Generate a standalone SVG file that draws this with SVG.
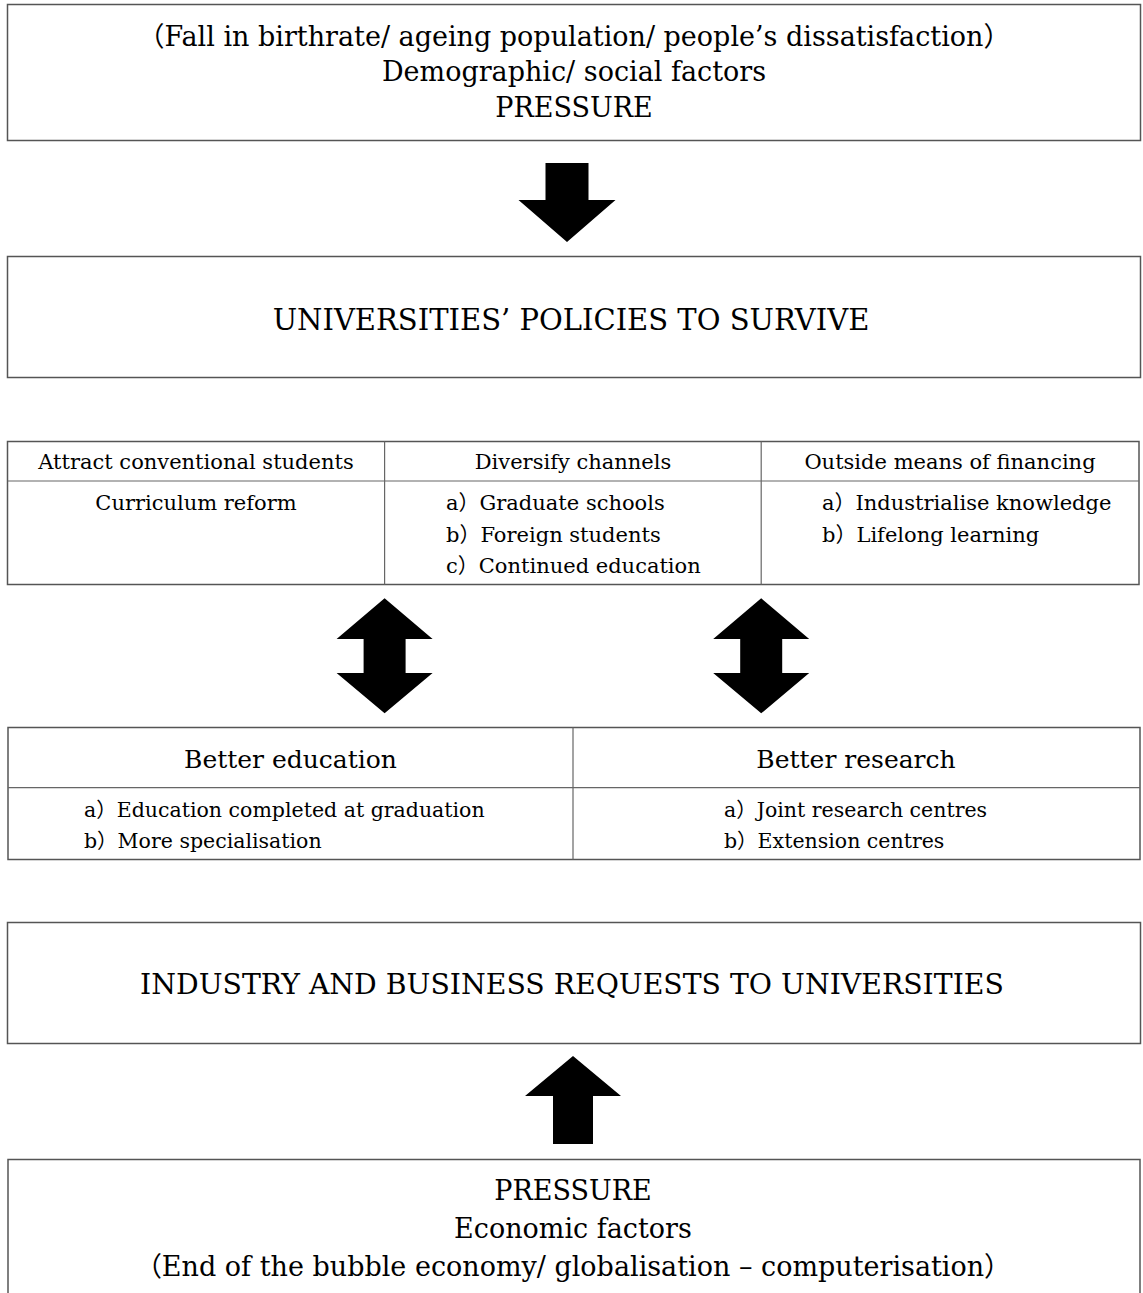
<svg xmlns="http://www.w3.org/2000/svg" width="1143" height="1293" viewBox="0 0 1143 1293">
<style>
text{font-family:"DejaVu Serif","Noto Sans CJK JP",serif;fill:#000}
.c{text-anchor:middle}
.s27{font-size:27px}
.s29{font-size:29px}
.s28{font-size:28.3px}
.s25{font-size:25px}
.s21{font-size:21px}
.s20{font-size:20.5px}
.box{fill:#fff;stroke:#555;stroke-width:1.5}
.in{stroke:#666;stroke-width:1.2;fill:none}
.arr{fill:#000}
</style>
<rect width="1143" height="1293" fill="#fff"/>
<g id="pressure-social">
<rect class="box" x="7.5" y="4.5" width="1133" height="136"/>
<text class="c s27" x="574" y="45.5">（Fall in birthrate/ ageing population/ people’s dissatisfaction）</text>
<text class="c s27" x="574" y="81">Demographic/ social factors</text>
<text class="c s27" x="574" y="116.5">PRESSURE</text>
</g>
<g id="policies">
<rect class="box" x="7.5" y="256.5" width="1133" height="121"/>
<text class="c s29" x="571" y="330">UNIVERSITIES’ POLICIES TO SURVIVE</text>
</g>
<g id="strategies">
<rect class="box" x="7.5" y="441.5" width="1131.5" height="143"/>
<line class="in" x1="7.5" y1="481" x2="1139" y2="481"/>
<line class="in" x1="384.6" y1="441.5" x2="384.6" y2="584.5"/>
<line class="in" x1="761.2" y1="441.5" x2="761.2" y2="584.5"/>
<text class="c s21" x="196" y="469">Attract conventional students</text>
<text class="c s21" x="573" y="469">Diversify channels</text>
<text class="c s21" x="950" y="469">Outside means of financing</text>
<text class="c s21" x="196" y="510">Curriculum reform</text>
<text class="s21" x="446" y="510">a）Graduate schools</text>
<text class="s21" x="446" y="541.7">b）Foreign students</text>
<text class="s21" x="446" y="573.3">c）Continued education</text>
<text class="s21" x="822" y="510">a）Industrialise knowledge</text>
<text class="s21" x="822" y="541.7">b）Lifelong learning</text>
</g>
<g id="outcomes">
<rect class="box" x="8" y="727.5" width="1132" height="132"/>
<line class="in" x1="8" y1="787.7" x2="1140" y2="787.7"/>
<line class="in" x1="573" y1="727.5" x2="573" y2="859.5"/>
<text class="c s25" x="290.5" y="768.3">Better education</text>
<text class="c s25" x="856" y="768.3">Better research</text>
<text class="s20" x="84" y="816.7">a）Education completed at graduation</text>
<text class="s20" x="84" y="848">b）More specialisation</text>
<text class="s20" x="724" y="816.7">a）Joint research centres</text>
<text class="s20" x="724" y="848">b）Extension centres</text>
</g>
<g id="industry-requests">
<rect class="box" x="7.5" y="922.5" width="1133" height="121"/>
<text class="c s28" x="572" y="994">INDUSTRY AND BUSINESS REQUESTS TO UNIVERSITIES</text>
</g>
<g id="pressure-economic">
<rect class="box" x="8" y="1159.5" width="1132" height="150"/>
<text class="c s27" x="573" y="1200">PRESSURE</text>
<text class="c s27" x="573" y="1238">Economic factors</text>
<text class="c s27" x="573" y="1276">（End of the bubble economy/ globalisation – computerisation）</text>
</g>
<g id="connectors">
<polygon class="arr" points="545.5,163 588.5,163 588.5,200 615.5,200 567,242 518.5,200 545.5,200"/>
<polygon class="arr" points="384.6,598.3 432.6,639 405.6,639 405.6,673 432.6,673 384.6,713.3 336.6,673 363.6,673 363.6,639 336.6,639"/>
<polygon class="arr" points="761.2,598.3 809.2,639 782.2,639 782.2,673 809.2,673 761.2,713.3 713.2,673 740.2,673 740.2,639 713.2,639"/>
<polygon class="arr" points="573,1056 621,1096 593,1096 593,1144 553,1144 553,1096 525,1096"/>
</g>
</svg>
